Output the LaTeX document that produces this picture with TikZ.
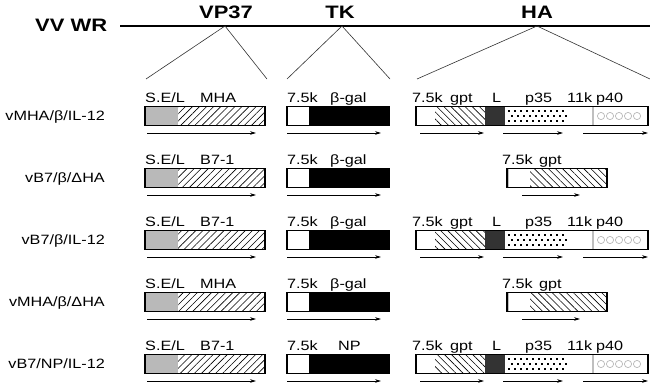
\documentclass[tikz,border=0pt]{standalone}
\usepackage{fontspec}
\usepackage{graphicx}
\setmainfont{Liberation Sans}
\newfontfamily\lbfont[FakeStretch=1.2]{Liberation Sans}
\newcommand\hdtext[1]{\scalebox{1.22}[1]{\bfseries #1}}
\usetikzlibrary{patterns.meta,arrows.meta}

\newcommand\vpbox[3]{% #1 yc, #2 gene label, #3 id
  \fill[segl] (145,#1-9.5) rectangle (178,#1+9.5);
  \fill[pattern={Lines[angle=45,distance=5pt,line width=0.6pt]}] (178,#1-9.5) rectangle (265,#1+9.5);
  \draw[boxline] (145,#1-9.5) rectangle (265,#1+9.5);
  \node[glbl] (sel#3) at (145,#1-14) {S.E/L};
  \node[glbl] (vpg#3) at (200,#1-14) {#2};
  \coordinate (vpa#3) at (147,#1+17);
  \coordinate (vpb#3) at (256,#1+17);
  \draw[arr] (vpa#3) -- (vpb#3);
}
\newcommand\tkbox[4]{% #1 yc, #2 label, #3 label x, #4 id
  \fill[black] (309,#1-9.5) rectangle (389,#1+9.5);
  \draw[boxline] (287,#1-9.5) rectangle (389,#1+9.5);
  \node[glbl] (tkp#4) at (287,#1-14) {7.5k};
  \node[glbl] (tkg#4) at (#3,#1-14) {#2};
  \coordinate (tka#4) at (287,#1+17);
  \coordinate (tkb#4) at (381,#1+17);
  \draw[arr] (tka#4) -- (tkb#4);
}
\newcommand\hafull[2]{% #1 yc, #2 id
  \fill[pattern={Lines[angle=-45,distance=5pt,line width=0.6pt]}] (435,#1-9.5) rectangle (485,#1+9.5);
  \fill[gray!40!black] (485,#1-9.5) rectangle (505,#1+9.5);
  \foreach \cx in {508,514,...,566}{
    \fill (\cx,#1-6.2) rectangle ++(2.4,2.2);
    \fill (\cx+3,#1-1.1) rectangle ++(2.4,2.2);
    \fill (\cx,#1+4) rectangle ++(2.4,2.2);
  }
  \foreach \cx in {601,610,619,628,637}
    \draw[gray!55, line width=0.7pt] (\cx,#1) circle (3.6pt);
  \draw[gray!50, line width=1.2pt] (593,#1-9.5) -- (593,#1+9.5);
  \draw[boxline] (416,#1-9.5) rectangle (648,#1+9.5);
  \node[glbl] (hap#2) at (412,#1-14) {7.5k};
  \node[glbl] (hag#2) at (450,#1-14) {gpt};
  \node[glbl] (hal#2) at (492,#1-14) {L};
  \node[glbl] (has#2) at (525,#1-14) {p35};
  \node[glbl] (hak#2) at (567,#1-14) {11k};
  \node[glbl] (haf#2) at (596,#1-14) {p40};
  \coordinate (ha1a#2) at (420,#1+17);
  \coordinate (ha1b#2) at (484,#1+17);
  \coordinate (ha2a#2) at (503,#1+17);
  \coordinate (ha2b#2) at (563,#1+17);
  \coordinate (ha3a#2) at (583,#1+17);
  \coordinate (ha3b#2) at (648,#1+17);
  \draw[arr] (ha1a#2) -- (ha1b#2);
  \draw[arr] (ha2a#2) -- (ha2b#2);
  \draw[arr] (ha3a#2) -- (ha3b#2);
}
\newcommand\hadel[2]{% #1 yc, #2 id
  \fill[pattern={Lines[angle=-45,distance=5pt,line width=0.6pt]}] (530,#1-9.5) rectangle (607,#1+9.5);
  \draw[gray!50, line width=1.2pt] (508,#1-9.5) -- (508,#1+9.5);
  \draw[boxline] (507,#1-9.5) rectangle (607,#1+9.5);
  \node[glbl] (hdp#2) at (502,#1-14) {7.5k};
  \node[glbl] (hdg#2) at (539,#1-14) {gpt};
  \coordinate (hda#2) at (522,#1+17);
  \coordinate (hdb#2) at (580,#1+17);
  \draw[arr] (hda#2) -- (hdb#2);
}

\begin{document}
\begin{tikzpicture}[x=1pt,y=-1pt,
  hdr/.style={font=\fontsize{18}{18}\selectfont, inner sep=0pt, anchor=base},
  rowlbl/.style={font=\lbfont\fontsize{13.5}{13.5}\selectfont, inner sep=0pt, anchor=base east},
  glbl/.style={font=\lbfont\fontsize{13.5}{13.5}\selectfont, inner sep=0pt, anchor=base west},
  arr/.style={-{Stealth[length=6pt,width=3.6pt]}, line width=0.8pt},
  boxline/.style={line width=1.2pt, draw=black},
  segl/.style={fill=gray!55},
  vline/.style={line width=0.6pt, draw=black!80}]
\useasboundingbox (0,0) rectangle (650,391);
\fill[white] (0,0) rectangle (650,391);

% genome line and headers
\coordinate (gl) at (120,26);
\coordinate (gr) at (650,26);
\draw[line width=2.2pt] (gl) -- (gr);
\node[hdr, anchor=base west] (vvwr) at (35,31.5) {\hdtext{VV WR}};
\node[hdr] (vp37) at (226,18) {\hdtext{VP37}};
\node[hdr] (tk) at (340,18) {\hdtext{TK}};
\node[hdr] (ha) at (537,18) {\hdtext{HA}};

\coordinate (vpx) at (225,26);
\coordinate (vpl) at (146,79);
\coordinate (vpr) at (267,79);
\coordinate (tkx) at (342,26);
\coordinate (tkl) at (287,79);
\coordinate (tkr) at (390,79);
\coordinate (hax) at (537,26);
\coordinate (hal) at (417,79);
\coordinate (har) at (650,79);
\draw[vline] (vpl) -- (vpx) -- (vpr);
\draw[vline] (tkl) -- (tkx) -- (tkr);
\draw[vline] (hal) -- (hax) -- (har);

% row labels
\node[rowlbl] (r1) at (105,120.5) {vMHA/β/IL-12};
\node[rowlbl] (r2) at (105,182.5) {vB7/β/ΔHA};
\node[rowlbl] (r3) at (105,244.5) {vB7/β/IL-12};
\node[rowlbl] (r4) at (105,306.5) {vMHA/β/ΔHA};
\node[rowlbl] (r5) at (105,368.5) {vB7/NP/IL-12};

% rows
\vpbox{116}{MHA}{1}
\tkbox{116}{β-gal}{330}{1}
\hafull{116}{1}

\vpbox{178}{B7-1}{2}
\tkbox{178}{β-gal}{330}{2}
\hadel{178}{2}

\vpbox{240}{B7-1}{3}
\tkbox{240}{β-gal}{330}{3}
\hafull{240}{3}

\vpbox{302}{MHA}{4}
\tkbox{302}{β-gal}{330}{4}
\hadel{302}{4}

\vpbox{364}{B7-1}{5}
\tkbox{364}{NP}{338}{5}
\hafull{364}{5}
\end{tikzpicture}
\end{document}
